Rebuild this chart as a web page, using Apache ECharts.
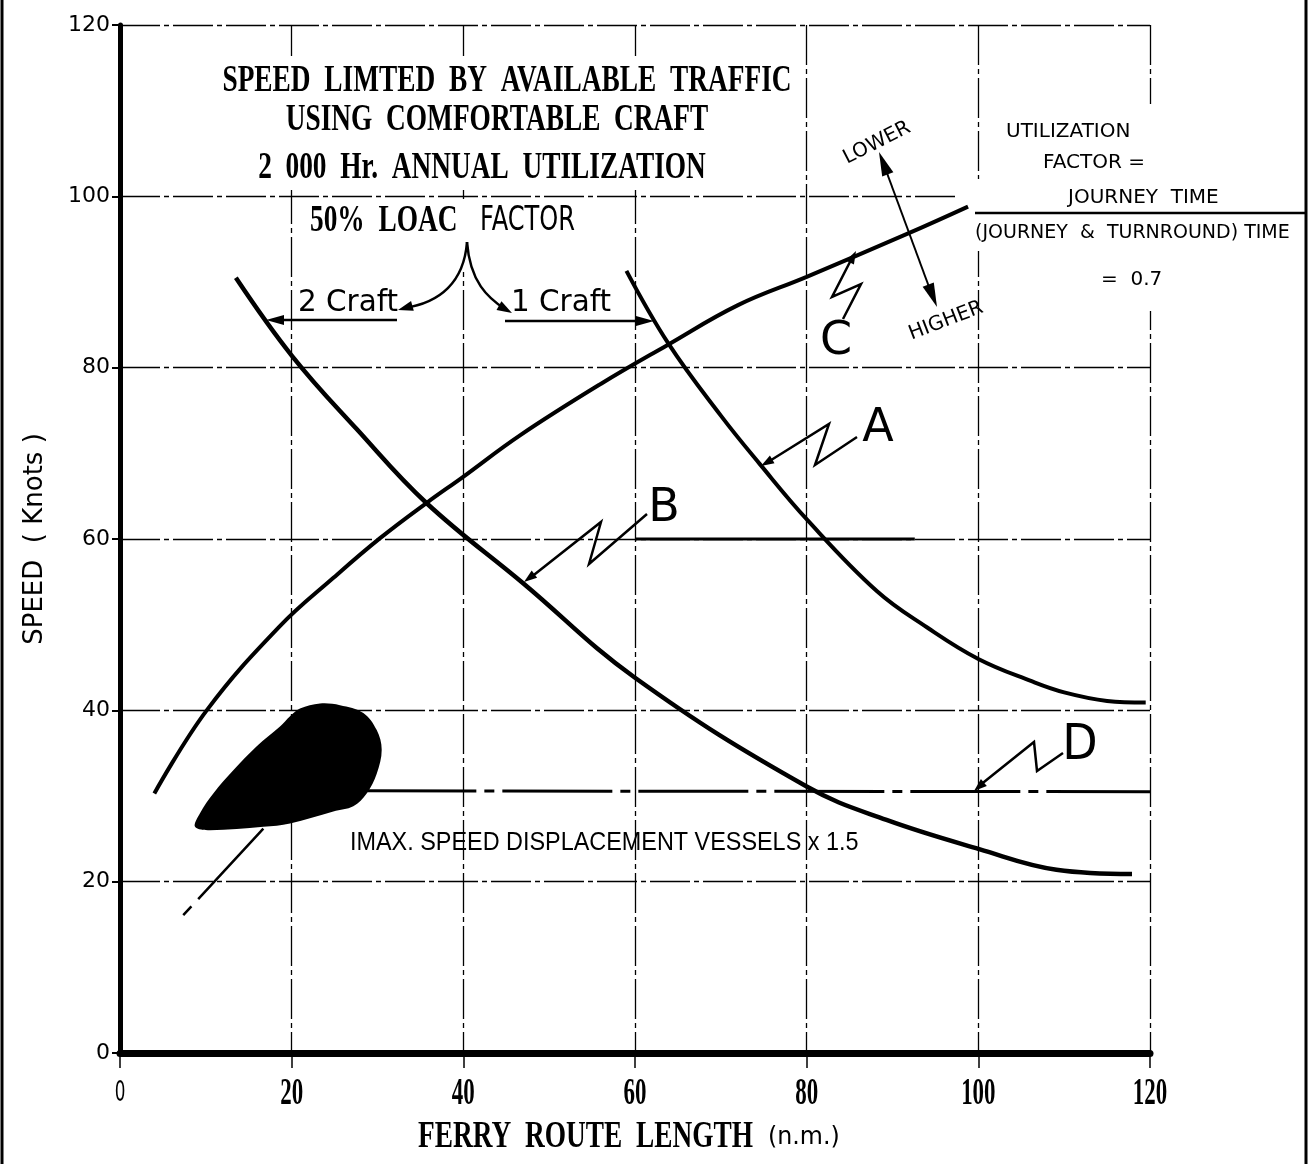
<!DOCTYPE html>
<html><head><meta charset="utf-8">
<script src="https://cdn.jsdelivr.net/npm/echarts@6/dist/echarts.min.js"></script>
<style>html,body{margin:0;padding:0;background:#fff}#c{width:1314px;height:1164px}</style>
</head><body><div id="c"></div>
<script>
// ---- data ----
const xTicks = [0, 20, 40, 60, 80, 100, 120];
const yTicks = [0, 20, 40, 60, 80, 100, 120];
const curveA = [[59.0,91.3],[63.9,82.8],[70.0,74.4],[74.5,68.8],[80.1,62.2],[88.2,53.9],[94.0,49.7],[100.0,46.0],[106.2,43.4],[110.0,42.1],[115.0,41.1],[119.5,40.9]];
const curveB = [[13.5,90.5],[20.1,81.3],[27.6,72.8],[35.7,64.2],[47.0,54.8],[60.0,43.8],[80.0,31.1],[89.3,27.2],[100.1,23.8],[109.1,21.4],[117.9,20.9]];
const curveC = [[4.0,30.3],[10.1,40.0],[18.6,49.8],[24.9,55.5],[30.3,60.1],[35.7,64.2],[39.9,67.2],[46.6,72.1],[56.0,78.1],[63.7,82.6],[72.0,87.3],[80.0,90.6],[91.9,95.7],[98.8,98.8]];
const lineD = [[28.7,30.6],[120.0,30.5]];
const blobOutline = [[8.74,26.4],[10.49,26.0],[16.70,26.4],[19.81,26.8],[24.85,28.2],[27.18,28.8],[28.74,30.3],[29.91,32.6],[30.49,35.4],[29.91,37.7],[28.35,39.7],[25.63,40.6],[23.30,40.8],[20.97,40.2],[19.81,39.3],[18.64,38.1],[15.93,35.8],[13.20,33.0],[10.87,30.3],[9.32,28.0]];
const blobTail = [[16.7,26.2],[7.2,15.9]];
const seg60 = [[60.0,60.0],[92.6,60.0]];

// ---- helpers for annotation graphics ----
function head(tip, from, len, hw) {
  const dx = tip[0]-from[0], dy = tip[1]-from[1], L = Math.hypot(dx, dy);
  const ux = dx/L, uy = dy/L, bx = tip[0]-ux*len, by = tip[1]-uy*len;
  return {type:'polygon', z:6, shape:{points:[[tip[0],tip[1]],[bx-uy*hw,by+ux*hw],[bx+uy*hw,by-ux*hw]]}, style:{fill:'#000'}};
}
function pline(pts, w) { return {type:'polyline', z:6, shape:{points:pts}, style:{stroke:'#000', lineWidth:w, fill:null}}; }
function txt(s, x, y, font, opts) {
  opts = opts || {};
  return Object.assign({type:'text', z:7, x:x, y:y, style:{text:s, font:font, fill:'#000', align:opts.align||'center', verticalAlign:'middle'}}, opts.el||{});
}
function rect(x, y, w, h) { return {type:'rect', z:1, shape:{x:x, y:y, width:w, height:h}, style:{fill:'#fff'}}; }
function bez(a, c1, c2, b) { return {type:'bezierCurve', z:6, shape:{x1:a[0],y1:a[1],cpx1:c1[0],cpy1:c1[1],cpx2:c2[0],cpy2:c2[1],x2:b[0],y2:b[1]}, style:{stroke:'#000', lineWidth:2.5, fill:null}}; }

const serifB = (px) => 'bold ' + px + 'px "Liberation Serif", "Times New Roman", serif';
const sans = (px) => px + 'px "DejaVu Sans", sans-serif';

const graphics = [
  // white covers (gaps in the scanned grid)
  rect(222, 56, 572, 134),
  rect(458, 199, 11, 73),
  rect(985, 104, 180, 207),
  rect(957, 179, 28, 72),
  // frame lines of the scan
  {type:'line', z:6, shape:{x1:2,y1:0,x2:2,y2:1164}, style:{stroke:'#000', lineWidth:3}},
  {type:'line', z:6, shape:{x1:1306,y1:0,x2:1306,y2:1164}, style:{stroke:'#000', lineWidth:3}},
  // title
  txt('SPEED  LIMTED  BY  AVAILABLE  TRAFFIC', 507, 81, serifB(38), {el:{scaleX:0.72}}),
  txt('USING  COMFORTABLE  CRAFT', 497, 120, serifB(38), {el:{scaleX:0.72}}),
  txt('2  000  Hr.  ANNUAL  UTILIZATION', 482, 168, serifB(38), {el:{scaleX:0.72}}),
  txt('50%  LOAC', 310, 221, serifB(38), {align:'left', el:{scaleX:0.72}}),
  txt('FACTOR', 480, 221, sans(34), {align:'left', el:{scaleX:0.71}}),
  // brace to 2 craft / 1 craft
  bez([467,242],[464,282],[440,303],[404,308]),
  head([398,310],[412,306],15,5),
  bez([467,242],[470,282],[488,298],[505,309]),
  head([512,313],[498,305],15,5),
  txt('2 Craft', 348, 303, sans(31), {el:{scaleX:0.95}}),
  txt('1 Craft', 561, 303, sans(31), {el:{scaleX:0.95}}),
  pline([[397,320],[280,320]], 2.5), head([266,320],[290,320],18,5),
  pline([[505,321],[640,321]], 2.5), head([654,321],[630,321],18,5),
  // utilization factor block
  txt('UTILIZATION', 1006, 132, sans(20), {align:'left'}),
  txt('FACTOR =', 1043, 163, sans(20), {align:'left'}),
  txt('JOURNEY  TIME', 1068, 198, sans(20), {align:'left'}),
  {type:'line', z:6, shape:{x1:975,y1:213,x2:1306,y2:213}, style:{stroke:'#000', lineWidth:2.5}},
  txt('(JOURNEY  &  TURNROUND) TIME', 975, 233, sans(19), {align:'left'}),
  txt('=  0.7', 1101, 280, sans(20), {align:'left'}),
  // lower / higher
  {type:'line', z:6, shape:{x1:884,y1:165,x2:932,y2:295}, style:{stroke:'#000', lineWidth:2}},
  head([879,152],[890,180],24,6),
  head([937,307],[926,279],24,6),
  txt('LOWER', 877, 143, sans(20), {el:{rotation:27*Math.PI/180}}),
  txt('HIGHER', 946, 321, sans(20), {el:{rotation:21*Math.PI/180}}),
  // curve labels with zigzag leaders
  txt('C', 836, 342, sans(46)),
  pline([[843,319],[861,284],[832,297],[852,258]], 2.5), head([856,251],[846,270],13,4.5),
  txt('A', 878, 429, sans(46)),
  pline([[857,437],[815,465],[829,424],[768,462]], 2.5), head([761,466],[778,456],13,4.5),
  txt('B', 664, 509, sans(46)),
  pline([[647,514],[589,564],[601,522],[530,578]], 2.5), head([524,582],[540,570],13,4.5),
  txt('D', 1080, 746, sans(46), {el:{scaleY:1.1}}),
  pline([[1063,753],[1037,771],[1034,742],[979,786]], 2.5), head([974,791],[988,779],13,4.5),
  // displacement vessels note
  txt('IMAX. SPEED DISPLACEMENT VESSELS x 1.5', 350, 843, '26px "Liberation Sans", Arial, sans-serif', {align:'left', el:{scaleX:0.9}}),
  // x axis title
  txt('FERRY  ROUTE  LENGTH', 418, 1137, serifB(38), {align:'left', el:{scaleX:0.72}}),
  txt('(n.m.)', 768, 1137, sans(25), {align:'left', el:{scaleX:0.95}})
];

const grid = {color:'#000', width:1.3, type:[40,4,5,4]};
const option = {
  animation: false,
  backgroundColor: '#fff',
  grid: {left:120, right:164, top:25, bottom:111},
  xAxis: {
    type:'value', min:0, max:120, interval:20,
    axisLine:{lineStyle:{color:'#000', width:7}},
    axisTick:{show:true, length:15, lineStyle:{color:'#000', width:1.5}},
    axisLabel:{show:false},
    splitLine:{show:true, lineStyle:grid}
  },
  yAxis: {
    type:'value', min:0, max:120, interval:20,
    name:'SPEED  ( Knots )', nameLocation:'middle', nameRotate:90, nameGap:72,
    nameTextStyle:{fontFamily:'DejaVu Sans', fontSize:26, color:'#000'},
    axisLine:{show:true, lineStyle:{color:'#000', width:5}},
    axisTick:{show:true, length:8, lineStyle:{color:'#000', width:2}},
    axisLabel:{margin:10, color:'#000', fontSize:22, fontFamily:'DejaVu Sans',
      formatter: v => String(yTicks[yTicks.indexOf(v)])},
    splitLine:{show:true, lineStyle:grid}
  },
  series: [
    {name:'A', type:'line', data:curveA, showSymbol:false, smooth:0.4, lineStyle:{color:'#000', width:4}, z:5},
    {name:'B', type:'line', data:curveB, showSymbol:false, smooth:0.4, lineStyle:{color:'#000', width:4.5}, z:5},
    {name:'C', type:'line', data:curveC, showSymbol:false, smooth:0.4, lineStyle:{color:'#000', width:4}, z:5},
    {name:'D', type:'line', data:lineD, showSymbol:false, lineStyle:{color:'#000', width:3, type:[110,8,10,8]}, z:5},
    {name:'60 ref', type:'line', data:seg60, showSymbol:false, lineStyle:{color:'#000', width:3}, z:4},
    {name:'tail', type:'line', data:blobTail, showSymbol:false, lineStyle:{color:'#000', width:2.5, type:[96,10,12,60]}, z:5},
    {name:'blob', type:'custom', data:blobOutline, z:5,
      renderItem: function(params, api) {
        if (params.dataIndex !== 0) return null;
        const pts = blobOutline.map(p => api.coord(p));
        return {type:'polygon', shape:{points:pts, smooth:0.35}, style:{fill:'#000'}};
      }}
  ],
  graphic: graphics
};
const chart = echarts.init(document.getElementById('c'));
chart.setOption(option);
// x tick labels: condensed bold serif, placed through the x axis scale
const xLabelY = chart.convertToPixel({yAxisIndex:0}, 0) + 41;
const xLabels = xTicks.map(v => txt(String(v), chart.convertToPixel({xAxisIndex:0}, v), xLabelY,
  v === 0 ? sans(28) : serifB(37), {el:{scaleX: v === 0 ? 0.6 : 0.62}}));
chart.setOption({graphic: graphics.concat(xLabels)});
</script>
</body></html>
